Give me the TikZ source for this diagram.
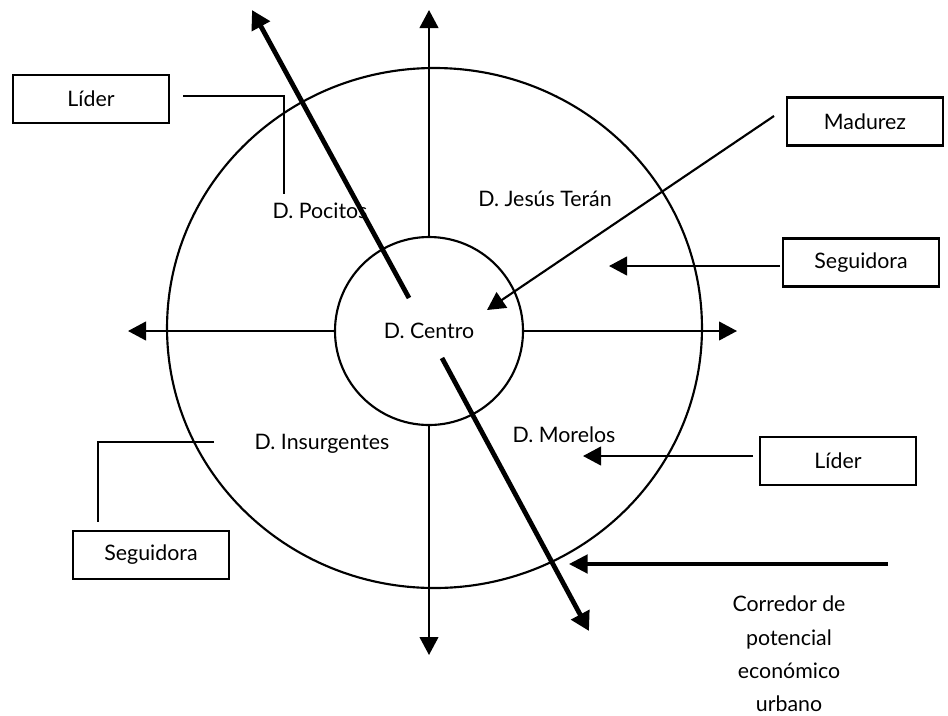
\documentclass[tikz,border=0pt]{standalone}
\usepackage{fontspec}
\setmainfont{Lato}
\usetikzlibrary{arrows.meta}
\begin{document}
\begin{tikzpicture}[x=0.75pt,y=-0.75pt,
  thin/.style={line width=1.6pt},
  arr/.style={thin,-{Triangle[length=13.5pt,width=14pt]}},
  thickarr/.style={line width=3.6pt,-{Triangle[length=14pt,width=15pt]}},
  corarr/.style={line width=2.3pt,-{Triangle[length=14pt,width=14pt]}},
  box/.style={draw,line width=1.6pt,minimum width=117pt,minimum height=36pt,inner sep=0pt,font=\fontsize{16}{19}\selectfont},
  lbl/.style={font=\fontsize{16}{19}\selectfont,inner sep=0pt}]
\useasboundingbox (0,0) rectangle (948,715);
% outer ring
\draw[thin] (434.5,328) ellipse [x radius=200.6pt, y radius=195pt];
% inner circle
\node[draw,thin,circle,minimum size=141pt,inner sep=0pt,lbl] (centro) at (429,331) {D. Centro};
% axis tips
\coordinate (tipN) at (428,10);
\coordinate (tipS) at (428,655);
\coordinate (tipW) at (128,333);
\coordinate (tipE) at (737,333);
\draw[arr] (centro.north) -- (centro.north |- tipN);
\draw[arr] (centro.south) -- (centro.south |- tipS);
\draw[arr] (centro.west) -- (tipW |- centro.west);
\draw[arr] (centro.east) -- (tipE |- centro.east);
% thick corridor arrows
\coordinate (nwS) at (409,298);
\coordinate (nwT) at (252,10);
\coordinate (seS) at (442,358);
\coordinate (seT) at (589,631);
\draw[thickarr] (nwS) -- (nwT);
\draw[thickarr] (seS) -- (seT);
% district labels
\node[lbl] (pocitos) at (320,211) {D. Pocitos};
\node[lbl] (jesus) at (545,199) {D. Jesús Terán};
\node[lbl] (insurg) at (322,444) {D. Insurgentes};
\node[lbl] (morelos) at (564,435) {D. Morelos};
% boxes
\node[box] (liderA) at (91,99) {Líder};
\node[box] (madurez) at (865,121.5) {Madurez};
\node[box] (seguiB) at (861,262.5) {Seguidora};
\node[box] (liderB) at (838,461) {Líder};
\node[box] (seguiA) at (151,555) {Seguidora};
% connectors
\coordinate (lA1) at (183,96);
\coordinate (lA2) at (284,194);
\draw[thin] (lA1) -| (lA2);
\coordinate (sA1) at (214,442);
\coordinate (sA2) at (98,522);
\draw[thin] (sA1) -| (sA2);
\coordinate (mS) at (774,116);
\coordinate (mT) at (487,310);
\draw[arr] (mS) -- (mT);
\coordinate (sgS) at (780,266);
\coordinate (sgT) at (609,266);
\draw[arr] (sgS) -- (sgT);
\coordinate (ldS) at (753,456);
\coordinate (ldT) at (583,456);
\draw[arr] (ldS) -- (ldT);
\coordinate (crS) at (888,564);
\coordinate (crT) at (569,564);
\draw[corarr] (crS) -- (crT);
\node[lbl,align=center,font=\fontsize{16}{25}\selectfont] (corredor) at (789,654) {Corredor de\\potencial\\económico\\urbano};
\end{tikzpicture}
\end{document}
